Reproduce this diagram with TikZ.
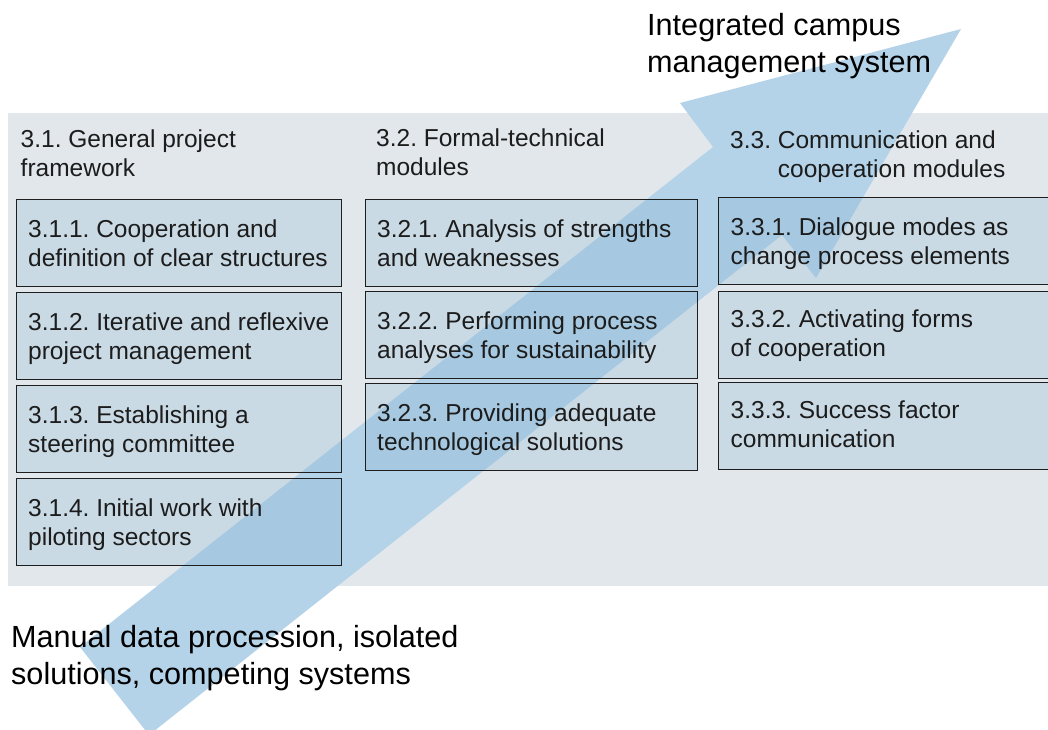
\documentclass[tikz,border=0pt]{standalone}
\usepackage{fontspec}
\setmainfont{Liberation Sans}
\frenchspacing
\definecolor{panelgray}{HTML}{E1E7EB}
\definecolor{arrowblue}{HTML}{B4D3E8}
\definecolor{boxfill}{HTML}{C9DAE5}
\definecolor{boxdeep}{HTML}{A6C9E1}
\definecolor{boxline}{HTML}{1E1E1E}
\definecolor{inktext}{HTML}{1C1C1C}
\pgfdeclarelayer{back}
\pgfsetlayers{back,main}
\begin{document}
\begin{tikzpicture}[x=1pt,y=-1pt,
  box/.style={draw=boxline,line width=1.3pt,anchor=north west,minimum height=87pt,inner sep=0pt},
  % the base anchor of these two-line labels sits on the last line
  boxtext/.style={anchor=base west,align=left,inner sep=0pt,text=inktext,font=\fontsize{24.5}{29}\selectfont},
  heading/.style={boxtext},
  bigtext/.style={anchor=base west,align=left,inner sep=0pt,text=black,font=\fontsize{30.6}{37}\selectfont},
]
\useasboundingbox (0,0) rectangle (1048,729);
\clip (0,0) rectangle (1048,729);

% outline of the big transition arrow
\coordinate (tip)    at (961,29);
\coordinate (barbU)  at (680,103);
\coordinate (notchU) at (713,147);
\coordinate (tailU)  at (80,647);
\coordinate (tailL)  at (149,735);
\coordinate (notchL) at (782,235);
\coordinate (barbL)  at (816,278);

% module frames, column 3.1
\node[box,minimum width=325pt] (b311) at (16,199) {};
\node[box,minimum width=325pt] (b312) at (16,292) {};
\node[box,minimum width=325pt] (b313) at (16,385) {};
\node[box,minimum width=325pt] (b314) at (16,478) {};
% column 3.2
\node[box,minimum width=332pt] (b321) at (365,199) {};
\node[box,minimum width=332pt] (b322) at (365,291) {};
\node[box,minimum width=332pt] (b323) at (365,383) {};
% column 3.3
\node[box,minimum width=345pt] (b331) at (718,197) {};
\node[box,minimum width=345pt] (b332) at (718,291) {};
\node[box,minimum width=345pt] (b333) at (718,382) {};

% column headings
\node[heading] (h31) at (20.5,176) {3.1. General project\\framework};
\node[heading] (h32) at (376,175) {3.2. Formal-technical\\modules};
\node[heading] (h33) at (730,177) {3.3. Communication and\\\phantom{3.3. }cooperation modules};

% module labels
\node[boxtext] (t311) at (28,266.5) {3.1.1. Cooperation and\\definition of clear structures};
\node[boxtext] (t312) at (28,359.5) {3.1.2. Iterative and reflexive\\project management};
\node[boxtext] (t313) at (28,452) {3.1.3. Establishing a\\steering committee};
\node[boxtext] (t314) at (28,545) {3.1.4. Initial work with\\piloting sectors};
\node[boxtext] (t321) at (377,266) {3.2.1. Analysis of strengths\\and weaknesses};
\node[boxtext] (t322) at (377,358) {3.2.2. Performing process\\analyses for sustainability};
\node[boxtext] (t323) at (377,450.5) {3.2.3. Providing adequate\\technological solutions};
\node[boxtext] (t331) at (730.5,264) {3.3.1. Dialogue modes as\\change process elements};
\node[boxtext] (t332) at (730.5,356) {3.3.2. Activating forms\\of cooperation};
\node[boxtext] (t333) at (730.5,447) {3.3.3. Success factor\\communication};

% start and goal statements
\node[bigtext] (goal) at (647,72) {Integrated campus\\management system};
\node[bigtext] (start) at (11,684) {Manual data procession, isolated\\solutions, competing systems};

\begin{pgfonlayer}{back}
  \clip (0,0) rectangle (1048,729);
  \fill[white] (0,0) rectangle (1048,729);
  \fill[panelgray] (8,113) rectangle (1060,586);
  \fill[arrowblue] (tip) -- (barbU) -- (notchU) -- (tailU) -- (tailL) -- (notchL) -- (barbL) -- cycle;
  \foreach \b in {b311,b312,b313,b314,b321,b322,b323,b331,b332,b333}
    \fill[boxfill] (\b.north west) rectangle (\b.south east);
  \begin{scope}
    \clip (tip) -- (barbU) -- (notchU) -- (tailU) -- (tailL) -- (notchL) -- (barbL) -- cycle;
    \foreach \b in {b311,b312,b313,b314,b321,b322,b323,b331,b332,b333}
      \fill[boxdeep] (\b.north west) rectangle (\b.south east);
  \end{scope}
\end{pgfonlayer}
\end{tikzpicture}
\end{document}
